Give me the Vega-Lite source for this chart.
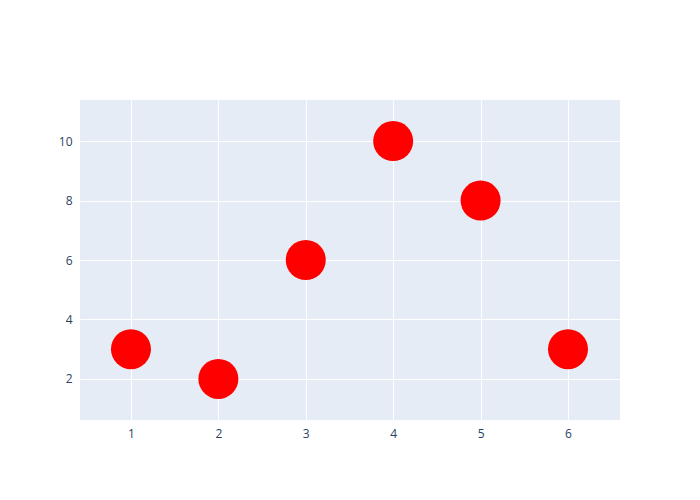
{
  "$schema": "https://vega.github.io/schema/vega-lite/v6.json",
  "width": 540,
  "height": 320,
  "autosize": {"type": "none"},
  "padding": {"left": 80, "top": 100, "right": 80, "bottom": 80},
  "background": "white",
  "config": {
    "view": {"fill": "#E5ECF6", "stroke": null},
    "axis": {
      "domain": false,
      "ticks": false,
      "gridColor": "white",
      "gridWidth": 1,
      "labelColor": "#2a3f5f",
      "labelFont": "Open Sans",
      "labelFontSize": 12,
      "title": null
    }
  },
  "data": {
    "values": [
      {"x": 1, "y": 3},
      {"x": 2, "y": 2},
      {"x": 3, "y": 6},
      {"x": 4, "y": 10},
      {"x": 5, "y": 8},
      {"x": 6, "y": 3}
    ]
  },
  "mark": {"type": "circle", "color": "red", "opacity": 1, "size": 1600},
  "encoding": {
    "x": {
      "field": "x",
      "type": "quantitative",
      "scale": {"domain": [0.417, 6.595], "nice": false, "zero": false},
      "axis": {"values": [1, 2, 3, 4, 5, 6], "labelPadding": 8}
    },
    "y": {
      "field": "y",
      "type": "quantitative",
      "scale": {"domain": [0.62, 11.38], "nice": false, "zero": false},
      "axis": {"values": [2, 4, 6, 8, 10], "labelPadding": 8}
    }
  }
}
